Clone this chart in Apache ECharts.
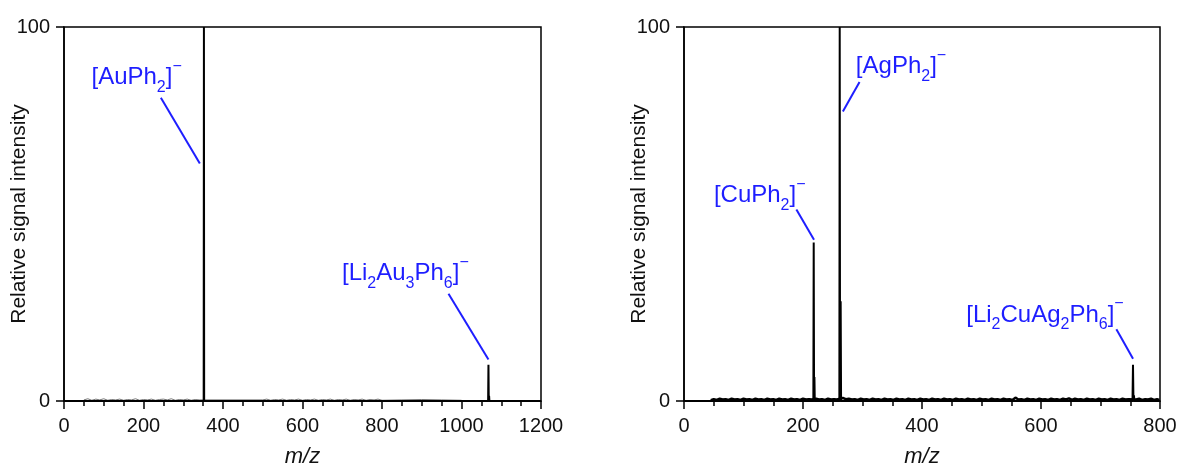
<!DOCTYPE html>
<html>
<head>
<meta charset="utf-8">
<script src="https://cdn.jsdelivr.net/npm/echarts@6/dist/echarts.min.js"></script>
<style>
html,body{margin:0;padding:0;background:#fff;}
#c{width:1179px;height:466px;}
</style>
</head>
<body>
<div id="c"></div>
<script>
// ---- Data ----
const xTicksLeft = [0, 200, 400, 600, 800, 1000, 1200];
const xTicksRight = [0, 200, 400, 600, 800];
const yTicks = [0, 100];

// Left spectrum (Au): [m/z, relative intensity]
const leftPeaks = [[0,0],[351.4,0],[352,100],[352.6,0],[1067,0],[1067.8,9.7],[1068.6,0],[1069.4,1.4],[1070.2,0],[1200,0]];
const leftNoise = [[50,0.3],[60,0.6],[70,0.2],[80,0.5],[90,0.3],[100,0.6],[110,0.2],[120,0.4],[130,0.3],[140,0.5],[150,0.2],[160,0.4],[170,0.3],[180,0.6],[190,0.2],[200,0.4],[210,0.3],[220,0.5],[230,0.2],[240,0.4],[250,0.5],[260,0.3],[270,0.6],[280,0.2],[290,0.4],[300,0.3],[310,0.5],[320,0.2],[330,0.4],[340,0.3],
  [500,0.3],[510,0.5],[520,0.2],[530,0.4],[540,0.3],[550,0.5],[560,0.2],[570,0.4],[580,0.3],[590,0.5],[600,0.2],[610,0.4],[620,0.3],[630,0.5],[640,0.2],[650,0.4],[660,0.3],[670,0.5],[680,0.2],[690,0.4],[700,0.3],[710,0.5],[720,0.2],[730,0.4],[740,0.3],[750,0.5],[760,0.2],[770,0.4],[780,0.3],[790,0.5],[800,0.2],[850,0.3],[900,0.4],[950,0.3],[1000,0.2]];

// Right spectrum (Cu/Ag): [m/z, relative intensity]
const rightPeaks = [[0,0],[217.4,0],[218,42.4],[218.6,0],[219.2,6.4],[219.8,0],[261.1,0],[261.7,100],[262.3,0],[263.3,26.7],[264,0],[753.8,0],[754.6,9.7],[755.4,0],[756.2,1.5],[757,0],[800,0]];
const rightNoise = [[45,0.2],[50,0.5],[55,0.3],[60,0.6],[65,0.4],[70,0.5],[75,0.3],[80,0.6],[85,0.4],[90,0.5],[95,0.3],[100,0.6],[105,0.4],[110,0.5],[115,0.3],[120,0.6],[125,0.4],[130,0.5],[135,0.3],[140,0.6],[145,0.4],[150,0.5],[155,0.3],[160,0.6],[165,0.4],[170,0.5],[175,0.3],[180,0.6],[185,0.4],[190,0.5],[195,0.3],[200,0.6],[205,0.4],[210,0.5],[215,0.4],[222,0.6],[227,0.4],[232,0.5],[237,0.3],[242,0.6],[247,0.4],[252,0.5],[257,0.4],[267,0.8],[272,0.5],[277,0.6],[282,0.4],[287,0.5],[292,0.3],[297,0.6],[302,0.4],[307,0.5],[312,0.3],[317,0.6],[322,0.4],[327,0.5],[332,0.3],[337,0.6],[342,0.4],[347,0.5],[352,0.3],[357,0.6],[362,0.4],[367,0.5],[372,0.3],[377,0.6],[382,0.4],[387,0.5],[392,0.3],[397,0.6],[402,0.4],[407,0.5],[412,0.3],[417,0.6],[422,0.4],[427,0.5],[432,0.3],[437,0.6],[442,0.4],[447,0.5],[452,0.3],[457,0.6],[462,0.4],[467,0.5],[472,0.3],[477,0.6],[482,0.4],[487,0.5],[492,0.3],[497,0.6],[502,0.4],[507,0.5],[512,0.3],[517,0.6],[522,0.4],[527,0.5],[532,0.3],[537,0.6],[542,0.4],[547,0.5],[552,0.3],[557,0.9],[562,0.4],[567,0.5],[572,0.3],[577,0.6],[582,0.4],[587,0.5],[592,0.3],[597,0.6],[602,0.4],[607,0.5],[612,0.3],[617,0.6],[622,0.4],[627,0.5],[632,0.3],[637,0.6],[642,0.4],[647,0.7],[652,0.3],[657,0.6],[662,0.4],[667,0.5],[672,0.3],[677,0.6],[682,0.4],[687,0.5],[692,0.3],[697,0.6],[702,0.4],[707,0.5],[712,0.3],[717,0.6],[722,0.4],[727,0.5],[732,0.3],[737,0.6],[742,0.4],[747,0.5],[760,0.4],[765,0.6],[770,0.3],[775,0.5],[780,0.4],[785,0.6],[790,0.3],[795,0.5],[799,0.3]];

// Annotations: label text (rich), label position, leader line [from, to]
const leftLabels = [
  {text:'[AuPh{sub|2}]{sup|−}', at:[182.7,86.6], line:[[243.7,81.1],[341.7,63.5]]},
  {text:'[Li{sub|2}Au{sub|3}Ph{sub|6}]{sup|−}', at:[858.8,34.1], line:[[967.3,28.7],[1067.8,11.1]]}
];
const rightLabels = [
  {text:'[CuPh{sub|2}]{sup|−}', at:[127.2,55.0], line:[[188.9,51.2],[218.5,43.1]]},
  {text:'[AgPh{sub|2}]{sup|−}', at:[364.7,89.4], line:[[295,85.3],[267,77.4]]},
  {text:'[Li{sub|2}CuAg{sub|2}Ph{sub|6}]{sup|−}', at:[606.7,23.0], line:[[726.7,19.2],[754.7,11.3]]}
];

// ---- Chart ----
const FONT = 'Liberation Sans, Arial, sans-serif';
const BLUE = '#1e1eff';
const chart = echarts.init(document.getElementById('c'), null, {renderer:'canvas'});

const richStyles = {
  sub:{fontSize:16, color:BLUE, fontFamily:FONT, padding:[20,0,0,0]},
  sup:{fontSize:16, color:BLUE, fontFamily:FONT, padding:[0,0,22,0]}
};

function sortByX(a){ return a.slice().sort((p,q)=>p[0]-q[0]); }

function xAxisCfg(idx, ticks){
  return {
    type:'value', gridIndex:idx, min:ticks[0], max:ticks[ticks.length-1], interval:ticks[1]-ticks[0],
    name:'{i|m/z}', nameLocation:'middle', nameGap:45, nameMoveOverlap:false,
    nameTextStyle:{rich:{i:{fontSize:22, fontStyle:'italic', fontFamily:FONT, color:'#111'}}},
    axisLine:{show:true, onZero:false, lineStyle:{color:'#000', width:1.5}},
    axisTick:{show:true, length:8, lineStyle:{color:'#000', width:1.5}},
    minorTick:{show:true, splitNumber:4, length:5, lineStyle:{color:'#000', width:1.5}},
    axisLabel:{fontSize:20, color:'#111', fontFamily:FONT, margin:15, formatter:(v)=>String(v)},
    splitLine:{show:false}, minorSplitLine:{show:false}
  };
}
function yAxisCfg(idx){
  return {
    type:'value', gridIndex:idx, min:yTicks[0], max:yTicks[yTicks.length-1], interval:yTicks[1]-yTicks[0],
    name:'Relative signal intensity', nameLocation:'middle', nameGap:34, nameMoveOverlap:false,
    nameTextStyle:{fontSize:21, fontFamily:FONT, color:'#111'},
    axisLine:{show:true, onZero:false, lineStyle:{color:'#000', width:1.5}},
    axisTick:{show:true, length:8, lineStyle:{color:'#000', width:1.5}},
    axisLabel:{fontSize:20, color:'#111', fontFamily:FONT, margin:14, formatter:(v)=>String(v)},
    splitLine:{show:false}
  };
}
function annot(labels){
  return {
    markLine:{
      silent:true, symbol:['none','none'], animation:false,
      label:{show:false},
      lineStyle:{color:BLUE, width:2, type:'solid'},
      data: labels.map(l=>[{coord:l.line[0]},{coord:l.line[1]}])
    },
    markPoint:{
      silent:true, animation:false, symbol:'circle', symbolSize:0,
      itemStyle:{color:'transparent'},
      label:{show:true, position:'inside', fontSize:24, color:BLUE, fontFamily:FONT, rich:richStyles,
        formatter:(p)=>p.name},
      data: labels.map(l=>({name:l.text, coord:l.at}))
    }
  };
}

const gridBase = {top:27, bottom:65, show:true, borderColor:'#000', borderWidth:1.5, backgroundColor:'transparent',
  containLabel:false, outerBoundsMode:'none'};

chart.setOption({
  animation:false,
  backgroundColor:'#fff',
  grid:[
    Object.assign({left:64, right:638}, gridBase),
    Object.assign({left:684, right:19}, gridBase)
  ],
  xAxis:[xAxisCfg(0, xTicksLeft), xAxisCfg(1, xTicksRight)],
  yAxis:[yAxisCfg(0), yAxisCfg(1)],
  series:[
    {type:'line', xAxisIndex:0, yAxisIndex:0, data:sortByX(leftNoise), symbol:'none',
      lineStyle:{color:'#777', width:1}, z:2},
    Object.assign({type:'line', xAxisIndex:0, yAxisIndex:0, data:sortByX(leftPeaks), symbol:'none',
      lineStyle:{color:'#000', width:2}, z:3}, annot(leftLabels)),
    {type:'line', xAxisIndex:1, yAxisIndex:1, data:sortByX(rightNoise), symbol:'none',
      lineStyle:{color:'#000', width:2.5}, z:2},
    Object.assign({type:'line', xAxisIndex:1, yAxisIndex:1, data:sortByX(rightPeaks), symbol:'none',
      lineStyle:{color:'#000', width:2}, z:3}, annot(rightLabels))
  ]
});
</script>
</body>
</html>
